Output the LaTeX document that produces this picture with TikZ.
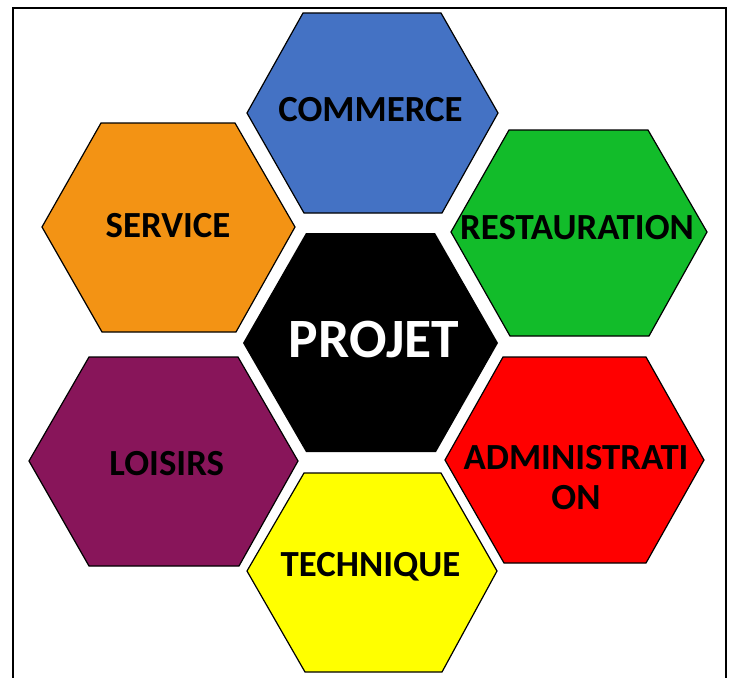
\documentclass[tikz,border=0pt]{standalone}
\usepackage{fontspec}
\setmainfont{Carlito}
\definecolor{hblue}{HTML}{4472C4}
\definecolor{horange}{HTML}{F39314}
\definecolor{hgreen}{HTML}{12BC2A}
\definecolor{hpurple}{HTML}{88155A}
\definecolor{hred}{HTML}{FF0000}
\definecolor{hyellow}{HTML}{FFFF00}
\begin{document}
\begin{tikzpicture}[x=1pt,y=-1pt,
  hexcell/.style={draw=black, line width=1.2pt, line join=miter},
  hexlabel/.style={font=\bfseries\fontsize{36.8}{40.6}\selectfont, text=black, inner sep=0pt, anchor=base},
  centrelabel/.style={font=\bfseries\fontsize{55.5}{60}\selectfont, text=white, inner sep=0pt, anchor=base}]
\useasboundingbox (0,0) rectangle (733,677);
\fill[white] (0,0) rectangle (733,677);
% frame
\draw[line width=2pt] (12.5,680) -- (12.5,8.5) -- (725.5,8.5) -- (725.5,680);
% hexagons
\filldraw[hexcell, fill=hblue]   (247,113) -- (303,13) -- (441,13) -- (498,113) -- (442,213) -- (304,213) -- cycle;
\filldraw[hexcell, fill=horange] (42,227) -- (101,123) -- (235,123) -- (295,227) -- (236,332) -- (102,332) -- cycle;
\filldraw[hexcell, fill=hgreen]  (451,232) -- (509,130) -- (648,130) -- (707,232) -- (649,336) -- (510,336) -- cycle;
\fill[black] (243,343) -- (306,233) -- (435,233) -- (498,343) -- (436,452) -- (306,452) -- cycle;
\filldraw[hexcell, fill=hpurple] (29,461) -- (89,357) -- (238,357) -- (298,461) -- (239,566) -- (89,566) -- cycle;
\filldraw[hexcell, fill=hred]    (445,460) -- (503,357) -- (646,357) -- (704,460) -- (646,563) -- (504,563) -- cycle;
\filldraw[hexcell, fill=hyellow] (247,571) -- (304,473) -- (441,473) -- (497,571) -- (442,672) -- (305,672) -- cycle;
% labels
\node[hexlabel] (commerce) at (370.5,121.7) {COMMERCE};
\node[hexlabel] (service) at (168,237.7) {SERVICE};
\node[hexlabel] (restauration) at (577,239) {RESTAURATION};
\node[centrelabel] (projet) at (374,357.3) {PROJET};
\node[hexlabel] (loisirs) at (166.7,475) {LOISIRS};
\node[hexlabel, anchor=center, align=center] (administration) at (576,477.5) {ADMINISTRATI\\ON};
\node[hexlabel] (technique) at (370.5,576.7) {TECHNIQUE};
\end{tikzpicture}
\end{document}
